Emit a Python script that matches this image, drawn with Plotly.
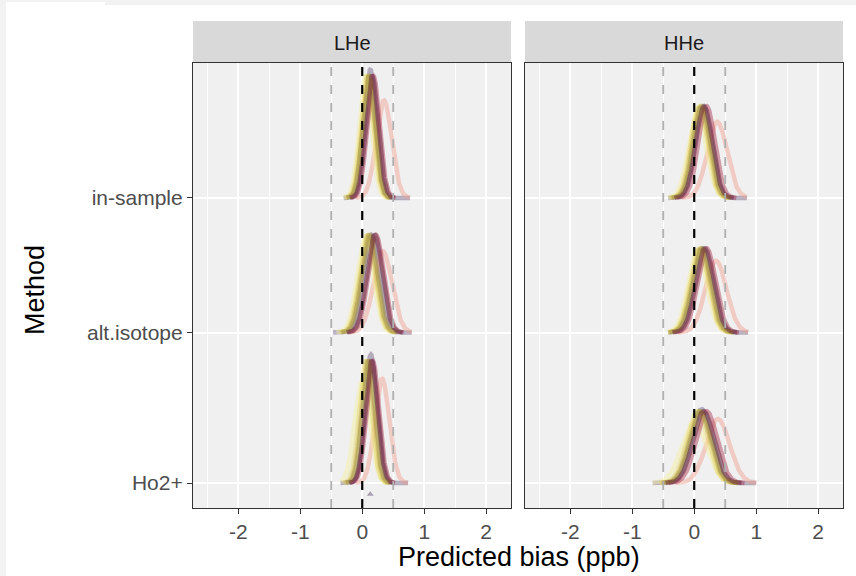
import numpy as np
import plotly.graph_objects as go

# ---------------- data ----------------
panels = ["LHe", "HHe"]
methods = ["in-sample", "alt.isotope", "Ho2+"]

# one colour per model (drawn in this order); the first model spans the whole row extent
model_colors = ["#6b5a80", "#f0a090", "#f5eea0", "#e6d65a", "#a8304e", "#c8b450",
                "#9a8838", "#5a1530"]

# mean / sd of each model's predicted-bias density, per panel and method
mean_LHe_insample = [0.13, 0.35, 0.05, 0.08, 0.18, 0.10, 0.11, 0.16]
sd_LHe_insample   = [0.095, 0.125, 0.10, 0.10, 0.10, 0.10, 0.10, 0.10]
mean_LHe_alt      = [0.15, 0.33, 0.05, 0.08, 0.22, 0.10, 0.12, 0.20]
sd_LHe_alt        = [0.125, 0.15, 0.13, 0.125, 0.125, 0.125, 0.125, 0.125]
mean_LHe_ho       = [0.14, 0.32, 0.00, 0.05, 0.17, 0.08, 0.10, 0.15]
sd_LHe_ho         = [0.095, 0.117, 0.12, 0.10, 0.10, 0.10, 0.10, 0.10]

mean_HHe_insample = [0.14, 0.37, 0.05, 0.08, 0.20, 0.10, 0.12, 0.16]
sd_HHe_insample   = [0.133, 0.16, 0.14, 0.133, 0.133, 0.133, 0.133, 0.133]
mean_HHe_alt      = [0.14, 0.35, 0.05, 0.08, 0.20, 0.10, 0.12, 0.17]
sd_HHe_alt        = [0.145, 0.17, 0.15, 0.145, 0.145, 0.145, 0.145, 0.145]
mean_HHe_ho       = [0.12, 0.38, 0.00, 0.05, 0.20, 0.08, 0.10, 0.15]
sd_HHe_ho         = [0.165, 0.19, 0.20, 0.17, 0.17, 0.17, 0.17, 0.17]

# x-extent of the widest density in each row
extent_LHe = {"in-sample": (-0.30, 0.77), "alt.isotope": (-0.47, 0.80), "Ho2+": (-0.35, 0.74)}
extent_HHe = {"in-sample": (-0.42, 0.85), "alt.isotope": (-0.42, 0.87), "Ho2+": (-0.67, 1.00)}

curve_params = {
    ("LHe", "in-sample"): (mean_LHe_insample, sd_LHe_insample),
    ("LHe", "alt.isotope"): (mean_LHe_alt, sd_LHe_alt),
    ("LHe", "Ho2+"): (mean_LHe_ho, sd_LHe_ho),
    ("HHe", "in-sample"): (mean_HHe_insample, sd_HHe_insample),
    ("HHe", "alt.isotope"): (mean_HHe_alt, sd_HHe_alt),
    ("HHe", "Ho2+"): (mean_HHe_ho, sd_HHe_ho),
}
extents = {"LHe": extent_LHe, "HHe": extent_HHe}

outlier_x = [0.13]   # lone point below the Ho2+ ridge in LHe

x_ticks = [-2, -1, 0, 1, 2]
ref_lines = [-0.5, 0.5]

# ---------------- layout constants ----------------
row_pos = {"in-sample": 2.894, "alt.isotope": 2.0, "Ho2+": 1.0}
ridge_scale = 0.2033
y_range = [0.834, 3.791]
x_range = [-2.73, 2.40]
tail_sd = 3.6

W, H = 856, 576
ML, MR, MT, MB = 193, 13, 63, 68
PW, PH = W - ML - MR, H - MT - MB


def px(xp):
    return (xp - ML) / PW


def py(yp):
    return (H - MB - yp) / PH


fig = go.Figure()
axes = {"LHe": ("x", "y"), "HHe": ("x2", "y2")}

for p in panels:
    xa, ya = axes[p]
    for m in methods:
        means, sds = curve_params[(p, m)]
        lo, hi = extents[p][m]
        for i, (mu, sd, col) in enumerate(zip(means, sds, model_colors)):
            if i == 0:
                xs = np.linspace(lo, hi, 260)
            else:
                xs = np.linspace(max(lo, mu - tail_sd * sd), min(hi, mu + tail_sd * sd), 220)
            dens = np.exp(-0.5 * ((xs - mu) / sd) ** 2) / (sd * np.sqrt(2 * np.pi))
            fig.add_trace(go.Scatter(
                x=xs, y=row_pos[m] + ridge_scale * dens, mode="lines",
                line=dict(color=col, width=4.5), opacity=0.45,
                xaxis=xa, yaxis=ya, showlegend=False, hoverinfo="skip"))

fig.add_trace(go.Scatter(
    x=outlier_x, y=[row_pos["Ho2+"] - 0.075] * len(outlier_x), mode="markers",
    marker=dict(symbol="triangle-up", size=6, color="#8a7a98", opacity=0.7),
    xaxis="x", yaxis="y", showlegend=False, hoverinfo="skip"))

shapes = []
for p in panels:
    xa, ya = axes[p]
    for v in ref_lines:
        shapes.append(dict(type="line", xref=xa, yref="paper", x0=v, x1=v, y0=0, y1=1,
                           line=dict(color="#b0b0b0", width=1.8, dash="dash"), layer="above"))
    shapes.append(dict(type="line", xref=xa, yref="paper", x0=0, x1=0, y0=0, y1=1,
                       line=dict(color="black", width=2.2, dash="dash"), layer="above"))

dom_left = [0, px(511)]
dom_right = [px(525), 1]
# facet strips
for d in (dom_left, dom_right):
    shapes.append(dict(type="rect", xref="paper", yref="paper", x0=d[0], x1=d[1],
                       y0=1.0, y1=py(21), fillcolor="#d9d9d9", line=dict(width=0), layer="below"))
# screenshot border
border = "#f2f2f2"
shapes.append(dict(type="rect", xref="paper", yref="paper", x0=px(0), x1=px(6), y0=py(576), y1=py(0),
                   fillcolor=border, line=dict(width=0), layer="below"))
shapes.append(dict(type="rect", xref="paper", yref="paper", x0=px(105), x1=px(856), y0=py(5), y1=py(0),
                   fillcolor=border, line=dict(width=0), layer="below"))
shapes.append(dict(type="rect", xref="paper", yref="paper", x0=px(0), x1=px(105), y0=py(2), y1=py(0),
                   fillcolor=border, line=dict(width=0), layer="below"))

annotations = [
    dict(text="LHe", x=(dom_left[0] + dom_left[1]) / 2, y=py(43), xref="paper", yref="paper",
         showarrow=False, font=dict(size=20, color="#1a1a1a"), xanchor="center", yanchor="middle"),
    dict(text="HHe", x=(dom_right[0] + dom_right[1]) / 2, y=py(43), xref="paper", yref="paper",
         showarrow=False, font=dict(size=20, color="#1a1a1a"), xanchor="center", yanchor="middle"),
    dict(text="Predicted bias (ppb)", x=px(519), y=py(557), xref="paper", yref="paper",
         showarrow=False, font=dict(size=27, color="black"), xanchor="center", yanchor="middle"),
    dict(text="Method", x=px(35), y=py(290), xref="paper", yref="paper", textangle=-90,
         showarrow=False, font=dict(size=27, color="black"), xanchor="center", yanchor="middle"),
]

xaxis_common = dict(
    range=x_range, tickvals=x_ticks, ticktext=[str(t) for t in x_ticks],
    ticks="outside", ticklen=5, tickwidth=1.2, tickcolor="#333333",
    tickfont=dict(size=21, color="#4d4d4d"),
    showgrid=True, gridcolor="white", gridwidth=1.6,
    minor=dict(tickvals=[-2.5, -1.5, -0.5, 0.5, 1.5], showgrid=True, gridcolor="white", gridwidth=0.8),
    showline=True, linecolor="#333333", linewidth=1.2, mirror=True, zeroline=False,
    fixedrange=True,
)
yaxis_common = dict(
    range=y_range, tickvals=[row_pos[m] for m in methods], ticktext=methods,
    showgrid=True, gridcolor="white", gridwidth=1.6,
    showline=True, linecolor="#333333", linewidth=1.2, mirror=True, zeroline=False,
)

fig.update_layout(
    width=W, height=H,
    margin=dict(l=ML, r=MR, t=MT, b=MB),
    paper_bgcolor="white", plot_bgcolor="#f0f0f0",
    font=dict(family="Liberation Sans, Arial, sans-serif"),
    xaxis=dict(domain=dom_left, anchor="y", **xaxis_common),
    xaxis2=dict(domain=dom_right, anchor="y2", **xaxis_common),
    yaxis=dict(domain=[0, 1], anchor="x", ticks="outside", ticklen=5, tickwidth=1.2,
               tickcolor="#333333", tickfont=dict(size=21, color="#4d4d4d"), **yaxis_common),
    yaxis2=dict(domain=[0, 1], anchor="x2", matches="y", showticklabels=False, ticks="",
                **yaxis_common),
    shapes=shapes, annotations=annotations, showlegend=False,
)

fig.write_html("out.html")
